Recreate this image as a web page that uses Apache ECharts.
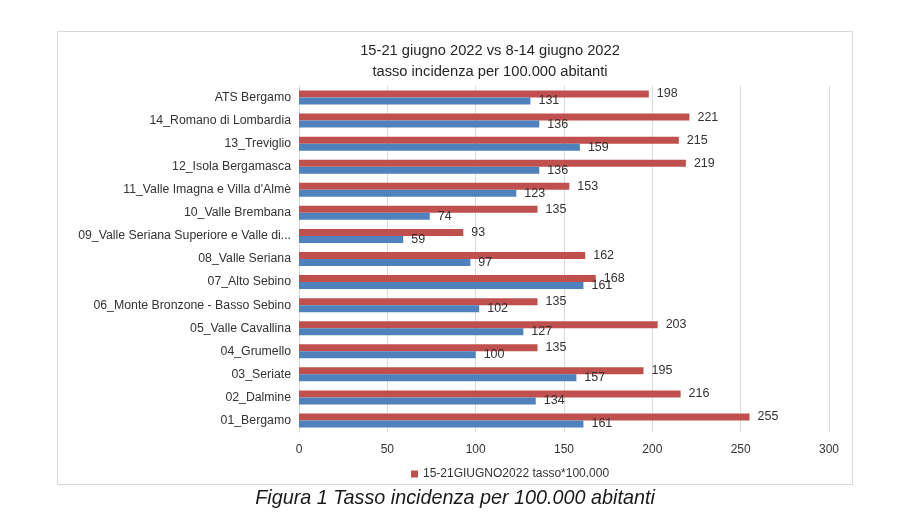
<!DOCTYPE html>
<html>
<head>
<meta charset="utf-8">
<script src="https://cdn.jsdelivr.net/npm/echarts@6/dist/echarts.min.js"></script>
<style>
html,body{margin:0;padding:0;background:#fff;}
#c{width:912px;height:525px;}
</style>
</head>
<body>
<div id="c"></div>
<script>
var categories = [
  "ATS Bergamo",
  "14_Romano di Lombardia",
  "13_Treviglio",
  "12_Isola Bergamasca",
  "11_Valle Imagna e Villa d'Almè",
  "10_Valle Brembana",
  "09_Valle Seriana Superiore e Valle di...",
  "08_Valle Seriana",
  "07_Alto Sebino",
  "06_Monte Bronzone - Basso Sebino",
  "05_Valle Cavallina",
  "04_Grumello",
  "03_Seriate",
  "02_Dalmine",
  "01_Bergamo"
];
var week2 = [198, 221, 215, 219, 153, 135, 93, 162, 168, 135, 203, 135, 195, 216, 255];
var week1 = [131, 136, 159, 136, 123, 74, 59, 97, 161, 102, 127, 100, 157, 134, 161];
var xTicks = [0, 50, 100, 150, 200, 250, 300];
var seriesNames = ["15-21GIUGNO2022 tasso*100.000", "8-14GIUGNO2022 tasso*100.000"];
var titleLines = ["15-21 giugno 2022 vs 8-14 giugno 2022", "tasso incidenza per 100.000 abitanti"];
var caption = "Figura 1 Tasso incidenza per 100.000 abitanti";

var FONT = "Liberation Sans";
var chart = echarts.init(document.getElementById('c'), null, {renderer: 'canvas'});
var labelStyle = {show: true, position: 'right', distance: 8, color: '#333', fontSize: 12.5, fontFamily: FONT};
chart.setOption({
  animation: false,
  title: {
    text: titleLines.join('\n'),
    left: 485, top: 35, textAlign: 'center',
    textStyle: {fontFamily: FONT, fontSize: 14.7, fontWeight: 'normal', color: '#262626', lineHeight: 21}
  },
  legend: {
    data: [seriesNames[0]],
    left: 406, top: 463,
    icon: 'rect', itemWidth: 7, itemHeight: 7,
    textStyle: {fontFamily: FONT, fontSize: 12, color: '#333'}
  },
  grid: {left: 299, right: 83, top: 86, bottom: 93, containLabel: false},
  xAxis: {
    type: 'value', min: xTicks[0], max: xTicks[xTicks.length - 1], interval: 50,
    axisLine: {show: false}, axisTick: {show: false},
    splitLine: {show: true, lineStyle: {color: '#d9d9d9', width: 1}},
    axisLabel: {fontFamily: FONT, fontSize: 12, color: '#333', margin: 12}
  },
  yAxis: {
    type: 'category', data: categories, inverse: true,
    axisLine: {show: true, lineStyle: {color: '#d9d9d9'}},
    axisTick: {show: false},
    axisLabel: {fontFamily: FONT, fontSize: 12.3, color: '#333', margin: 8}
  },
  series: [
    {name: seriesNames[0], type: 'bar', data: week2, itemStyle: {color: '#C0504D'},
     barWidth: 7, barGap: '0%', label: labelStyle},
    {name: seriesNames[1], type: 'bar', data: week1, itemStyle: {color: '#4F81BD'},
     barWidth: 7, barGap: '0%', label: labelStyle}
  ],
  graphic: [
    {type: 'rect', shape: {x: 57.5, y: 31.5, width: 795, height: 453},
     style: {fill: 'none', stroke: '#d9d9d9', lineWidth: 1}, silent: true},
    {type: 'text', x: 455, y: 498,
     style: {text: caption, fontFamily: FONT, fontStyle: 'italic', fontSize: 19.8, fill: '#1a1a1a', align: 'center', verticalAlign: 'middle'}}
  ]
});
</script>
</body>
</html>
